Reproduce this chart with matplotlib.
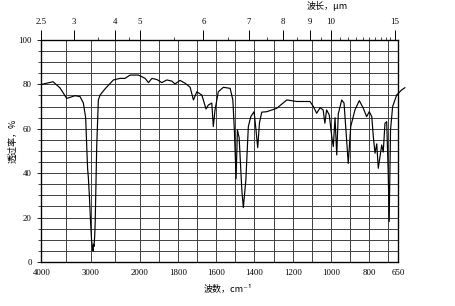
import matplotlib
matplotlib.use("Agg")
import matplotlib.pyplot as plt
import numpy as np

# IR spectrum: wavenumber (cm-1) and transmittance (%)
wavenumber = [4000, 3765, 3622, 3486, 3316, 3214, 3147, 3100, 3078, 3060, 3045,
              3020, 3000, 2980, 2960, 2950, 2940, 2930, 2915, 2905, 2875, 2841,
              2806, 2704, 2535, 2400, 2300, 2194, 2024,
              1971, 1954, 1936, 1910, 1884, 1858, 1832, 1815, 1789, 1762, 1736,
              1719, 1701, 1675, 1653, 1641, 1623, 1615, 1606, 1589, 1562, 1527,
              1513, 1505, 1496, 1489, 1480, 1466, 1458, 1445, 1432, 1419, 1402,
              1392, 1383, 1374, 1362, 1336, 1284, 1231, 1179, 1110, 1092, 1075,
              1057, 1041, 1032, 1023, 1009, 996, 988, 979, 970, 962, 944, 932,
              922, 910, 897, 875, 852, 831, 814, 800, 787, 779, 770, 761, 753,
              744, 735, 727, 718, 709, 701, 696, 689, 678, 657, 631, 614]
transmittance = [80.0, 81.2, 78.4, 73.7, 74.9, 74.5, 71.6, 65.0, 52.0, 42.0, 38.0,
                 28.0, 18.0, 10.0, 6.0, 5.0, 8.0, 7.0, 12.0, 18.5, 52.0, 73.0,
                 75.2, 78.0, 82.0, 82.7, 82.7, 84.2, 84.2,
                 82.7, 80.8, 82.7, 82.2, 80.8, 82.0, 81.5, 80.2, 81.8, 80.5, 78.7,
                 73.0, 76.7, 75.2, 68.9, 70.7, 71.6, 61.0, 68.5, 76.7, 78.7, 78.2,
                 73.0, 59.5, 37.5, 59.5, 56.0, 32.4, 24.5, 36.9, 61.0, 65.5, 67.7,
                 59.5, 51.5, 62.5, 67.5, 67.7, 69.2, 73.0, 72.3, 72.3, 70.0, 67.0,
                 69.5, 68.5, 62.5, 68.5, 66.2, 56.5, 52.0, 65.0, 48.2, 66.7, 73.0, 71.6,
                 59.5, 44.4, 61.0, 68.5, 72.7, 69.2, 65.5, 67.7, 65.5, 56.5, 49.0, 53.2,
                 42.2, 47.5, 52.7, 49.5, 62.5, 63.2, 40.0, 18.2, 59.5, 70.0, 75.2, 77.5, 78.5]

bottom_ticks = [4000, 3000, 2000, 1800, 1600, 1400, 1200, 1000, 800, 650]
grid_wn = [4000, 3500, 3000, 2500, 2000, 1900, 1800, 1700, 1600, 1500, 1400,
           1300, 1200, 1100, 1000, 900, 800, 700, 650]
um_major = [2.5, 3, 4, 5, 6, 7, 8, 9, 10, 15]
um_labels = ["2.5", "3", "4", "5", "6", "7", "8", "9", "10", "15"]
um_minor = [3.5, 4.5, 5.5, 6.5, 7.5, 8.5, 9.5, 10.5, 11, 11.5, 12, 12.5, 13,
            13.5, 14, 14.5]

K = 3.9  # scale change at 2000 cm-1


def fwd(w):
    w = np.asarray(w, float)
    return np.where(w >= 2000, w, 2000 - K * (2000 - w))


def inv(v):
    v = np.asarray(v, float)
    return np.where(v >= 2000, v, 2000 - (2000 - v) / K)


num_font = "Liberation Serif"
cjk = ["Noto Sans CJK SC", "DejaVu Sans"]

fig = plt.figure(figsize=(4.55, 3.06), dpi=100)
ax = fig.add_axes([0.0912, 0.1438, 0.7835, 0.7255])
ax.set_xscale("function", functions=(fwd, inv))
ax.set_xlim(4000, 650)
ax.set_ylim(0, 100)

ax.plot(wavenumber, transmittance, color="black", lw=0.85, clip_on=False, zorder=3)

ax.set_xticks(bottom_ticks, [str(t) for t in bottom_ticks])
ax.set_xticks(grid_wn, minor=True)
ax.set_yticks(np.arange(0, 101, 20))
ax.set_yticks(np.arange(0, 101, 5), minor=True)
ax.tick_params(axis="x", which="both", length=0, pad=5, labelsize=6.3)
ax.tick_params(axis="y", which="major", length=3, width=0.6, pad=4, labelsize=6.3)
ax.tick_params(axis="y", which="minor", length=2, width=0.5)
for lab in ax.get_xticklabels() + ax.get_yticklabels():
    lab.set_fontfamily(num_font)

ax.grid(True, which="both", color="0.25", lw=0.7)
for s in ax.spines.values():
    s.set_linewidth(0.9)

ax2 = ax.twiny()
ax2.set_xscale("function", functions=(fwd, inv))
ax2.set_xlim(4000, 650)
ax2.set_xticks([1e4 / u for u in um_major], um_labels)
ax2.set_xticks([1e4 / u for u in um_minor], minor=True)
ax2.tick_params(axis="x", which="major", direction="out", length=7, width=0.7,
                pad=3, labelsize=6.3)
ax2.tick_params(axis="x", which="minor", direction="out", length=2, width=0.5)
for lab in ax2.get_xticklabels():
    lab.set_fontfamily(num_font)

fig.text(327 / 455, 1 - 6 / 306, "波长，μm", ha="center", va="center",
         fontsize=6.5, family=cjk)
fig.text(228 / 455, 1 - 289 / 306, "波数，cm⁻¹", ha="center", va="center",
         fontsize=6.5, family=cjk)
fig.text(13 / 455, 1 - 141 / 306, "透过率，%", ha="center", va="center",
         rotation=90, fontsize=6.5, family=cjk)

fig.savefig("out.png", dpi=100)
